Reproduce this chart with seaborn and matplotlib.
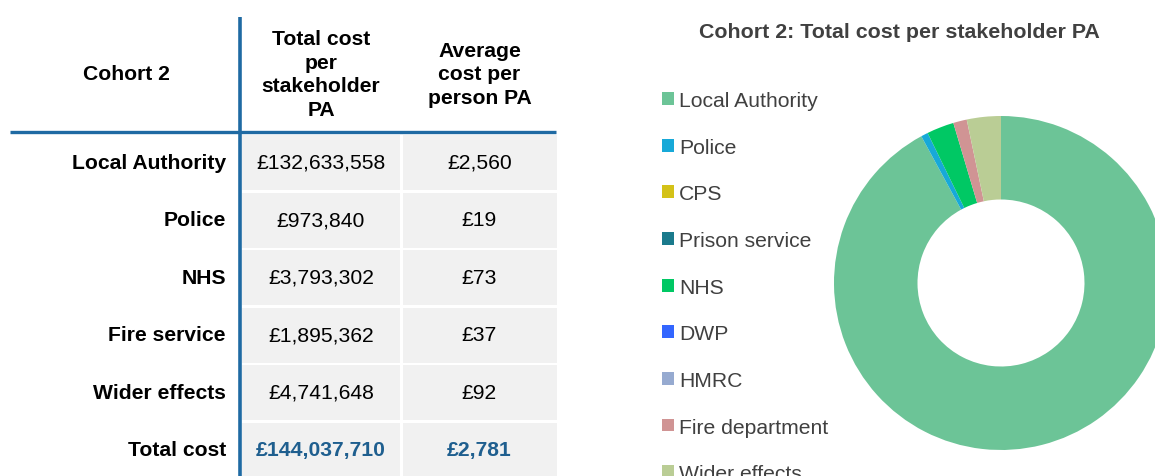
import matplotlib
matplotlib.use("Agg")
import matplotlib.pyplot as plt
from matplotlib.patches import Patch
import seaborn as sns

# table data
row_labels = ["Local Authority", "Police", "NHS", "Fire service", "Wider effects", "Total cost"]
total_cost = ["£132,633,558", "£973,840", "£3,793,302", "£1,895,362", "£4,741,648", "£144,037,710"]
avg_cost = ["£2,560", "£19", "£73", "£37", "£92", "£2,781"]
col_headers = ["Cohort 2", "Total cost\nper\nstakeholder\nPA", "Average\ncost per\nperson PA"]

# donut data
stakeholders = ["Local Authority", "Police", "CPS", "Prison service", "NHS", "DWP",
                "HMRC", "Fire department", "Wider effects"]
stake_cost = [132633558, 973840, 0, 0, 3793302, 0, 0, 1895362, 4741648]
stake_colors = ["#6cc497", "#17a9d8", "#d4c218", "#1a7a8c", "#00c864", "#3366ff",
                "#96aad0", "#d09494", "#bacd95"]
chart_title = "Cohort 2: Total cost per stakeholder PA"

sns.set_theme(style="white")
plt.rcParams['font.family'] = ['Liberation Sans', 'DejaVu Sans']

W, H = 1155, 477
fig = plt.figure(figsize=(W / 100, H / 100), dpi=100)

# ---- table, drawn in pixel coordinates
tab = fig.add_axes([0, 0, 1, 1])
tab.set_xlim(0, W)
tab.set_ylim(H, 0)
tab.axis("off")

blue = "#1f6aa3"
row_top, row_h, gap = 136, 57.5, 2.5
col_x = [(242, 158), (402.5, 154)]
fs = 15.2

for i, lab in enumerate(row_labels):
    y0 = row_top + i * row_h
    for (x0, w) in col_x:
        tab.add_patch(plt.Rectangle((x0, y0), w, row_h - gap, color="#f1f1f1", lw=0))
    yc = y0 + (row_h - gap) / 2
    last = i == len(row_labels) - 1
    tab.text(226, yc, lab, ha="right", va="center", fontsize=fs, fontweight="bold", color="black")
    tab.text(col_x[0][0] + col_x[0][1] / 2, yc, total_cost[i], ha="center", va="center",
             fontsize=fs, fontweight="bold" if last else "normal",
             color="#1f5f8f" if last else "black")
    tab.text(col_x[1][0] + col_x[1][1] / 2, yc, avg_cost[i], ha="center", va="center",
             fontsize=fs, fontweight="bold" if last else "normal",
             color="#1f5f8f" if last else "black")

head_x = [126, col_x[0][0] + col_x[0][1] / 2, col_x[1][0] + col_x[1][1] / 2]
for hx, txt in zip(head_x, col_headers):
    tab.text(hx, 75, txt, ha="center", va="center", fontsize=fs, fontweight="bold",
             linespacing=1.32, color="black")

tab.plot([10, 556], [133, 133], color=blue, lw=2.4, solid_capstyle="butt")
tab.plot([240, 240], [18, H], color=blue, lw=2.6, solid_capstyle="butt")

# ---- donut chart
cx, cy, r = 1001, 284, 167
pie_ax = fig.add_axes([(cx - r) / W, (H - cy - r) / H, 2 * r / W, 2 * r / H])
pie_ax.pie(stake_cost, colors=stake_colors, startangle=90, counterclock=False,
           wedgeprops=dict(width=0.5, linewidth=0))
pie_ax.set_aspect("equal")
pie_ax.set_xlim(-1, 1)
pie_ax.set_ylim(-1, 1)

fig.text(899 / W, 1 - 33 / H, chart_title, ha="center", va="center", fontsize=15.4,
         fontweight="bold", color="#404040")

handles = [Patch(facecolor=c, edgecolor="none") for c in stake_colors]
fig.legend(handles, stakeholders, loc="upper left", bbox_to_anchor=(662 / W, 1 - 92 / H),
           frameon=False, fontsize=fs, labelspacing=1.31, handlelength=0.55,
           handleheight=0.55, handletextpad=0.25, borderpad=0, borderaxespad=0,
           labelcolor="#404040")

fig.savefig("out.png", dpi=100)
